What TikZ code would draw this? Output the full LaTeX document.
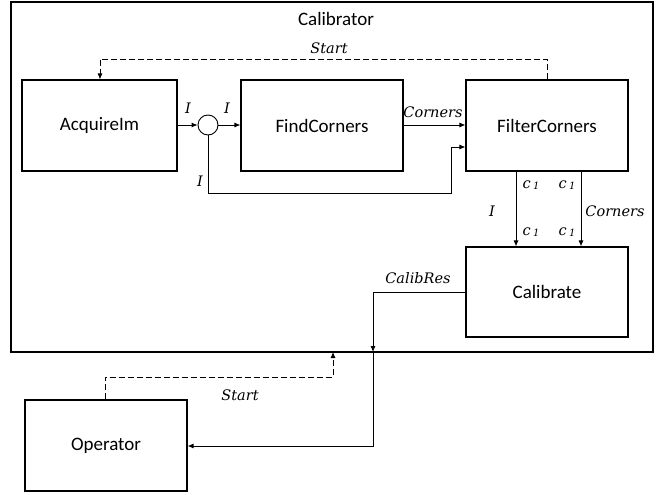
\documentclass[tikz,border=0pt]{standalone}
\usepackage{fontspec}
\setmainfont{Carlito}
\newfontfamily\labfont{DejaVu Serif}
\usetikzlibrary{arrows.meta,calc}
\tikzset{
  blk/.style={draw, line width=1.1pt, inner sep=0pt, font=\fontsize{19}{22}\selectfont},
  conn/.style={line width=0.9pt, -{Latex[length=6pt,width=5pt]}},
  dconn/.style={line width=0.9pt, dash pattern=on 6pt off 3pt, -{Latex[length=6pt,width=5pt]}},
  lab/.style={font=\labfont\itshape\fontsize{14.5}{16}\selectfont, inner sep=0pt},
}
\newcommand{\cone}{{\labfont\itshape c}\kern2.5pt\raisebox{-1.5pt}{\labfont\fontsize{10}{10}\selectfont 1}}
\begin{document}
\begin{tikzpicture}[x=1pt,y=-1pt]
\useasboundingbox (0,0) rectangle (661,495);
% outer
\node[draw, line width=1.1pt, minimum width=642pt, minimum height=350pt, inner sep=0pt] (cal) at (332,177) {};
\node[font=\fontsize{19}{22}\selectfont] (caltxt) at (336,19) {Calibrator};
% blocks
\node[blk, minimum width=155pt, minimum height=91pt] (acq) at (99.5,125.5) {AcquireIm};
\node[blk, minimum width=162pt, minimum height=91pt] (find) at (322,125.5) {FindCorners};
\node[blk, minimum width=162pt, minimum height=91pt] (filt) at (547,125.5) {FilterCorners};
\node[blk, minimum width=162pt, minimum height=90pt] (calib) at (547,292) {Calibrate};
\node[blk, minimum width=162pt, minimum height=91pt] (op) at (106,445.5) {Operator};
\node[draw, circle, line width=0.9pt, minimum size=20pt, inner sep=0pt] (split) at (208,125) {};
% coordinates
\coordinate (s1) at (100,59);
\coordinate (s2) at (547,59);
\coordinate (b1) at (208,193);
\coordinate (b2) at (451,193);
\coordinate (b3) at (451,147);
\coordinate (cr1) at (373,292);
\coordinate (cr2) at (373,352);
\coordinate (cr3) at (373,446);
\coordinate (o1) at (105,377);
\coordinate (o2) at (333,377);
\coordinate (o3) at (333,352);
% connectors
\draw[dconn] (filt.north -| s2) -- (s2) -- (s1) -- (acq.north -| s1);
\node[lab] (lstart) at (329,48) {Start};
\draw[conn] (acq.east |- split) -- (split.west);
\draw[conn] (split.east) -- (find.west |- split);
\draw[conn] (find.east |- split) -- (filt.west |- split);
\draw[conn] (split.south) -- (b1) -- (b2) -- (b3) -- (filt.west |- b3);
\node[lab] (li1) at (188,108) {I};
\node[lab] (li2) at (227,108) {I};
\node[lab] (lcor) at (433,112) {Corners};
\node[lab] (li3) at (200,181) {I};
\draw[conn] ($(filt.south)+(-31,0)$) coordinate (d1) -- (d1 |- calib.north);
\draw[conn] ($(filt.south)+(34,0)$) coordinate (d2) -- (d2 |- calib.north);
\node[lab] (c1a) at (531,185) {\cone};
\node[lab] (c1b) at (567,185) {\cone};
\node[lab] (c1c) at (531,232) {\cone};
\node[lab] (c1d) at (567,232) {\cone};
\node[lab] (li4) at (492,211) {I};
\node[lab] (lcor2) at (615,211) {Corners};
\draw[conn] (calib.west |- cr1) -- (cr1) -- (cr2);
\draw[conn] (cr2) -- (cr3) -- (op.east |- cr3);
\node[lab] (lres) at (418,278) {CalibRes};
\draw[dconn] (op.north -| o1) -- (o1) -- (o2) -- (o3);
\node[lab] (lstart2) at (240,395) {Start};
\end{tikzpicture}
\end{document}
